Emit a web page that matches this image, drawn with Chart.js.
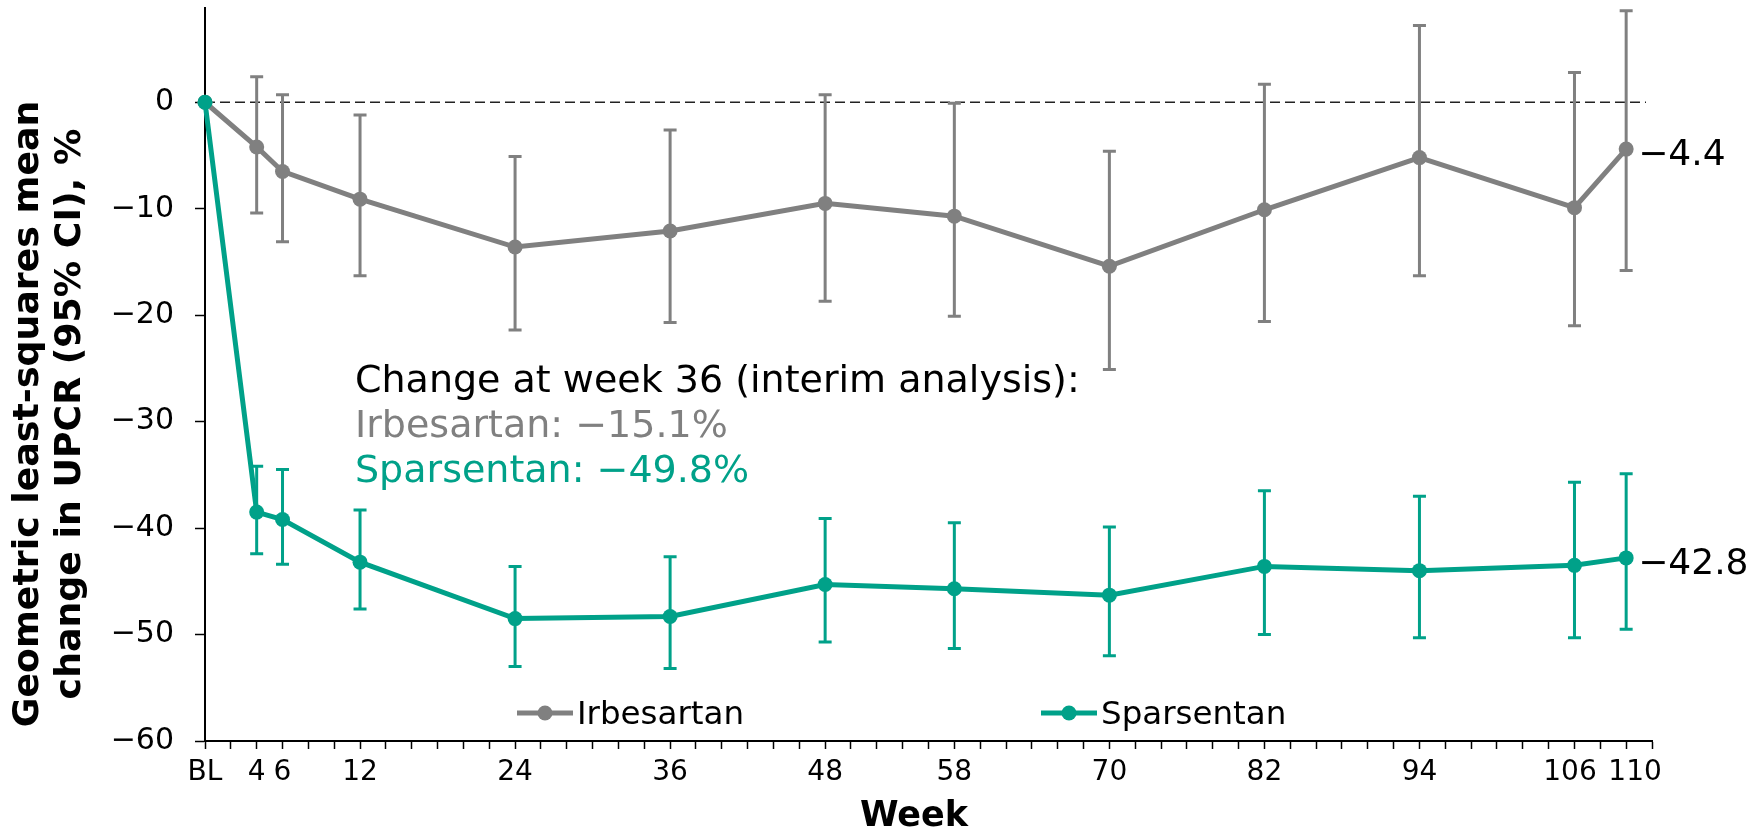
<!DOCTYPE html>
<html>
<head>
<meta charset="utf-8">
<script src="https://cdn.jsdelivr.net/npm/chart.js@4"></script>
<style>
  body { margin: 0; background: #fff; }
  #wrap { width: 1755px; height: 833px; }
</style>
</head>
<body>
<div id="wrap"><canvas id="chart" width="1755" height="833"></canvas></div>
<script>
/* ===== DATA ===== */
const weeks = [0, 4, 6, 12, 24, 36, 48, 58, 70, 82, 94, 106, 110];
const weekLabels = ["BL", "4", "6", "12", "24", "36", "48", "58", "70", "82", "94", "106 ", "  110"];

const irbMean  = [0, -4.2, -6.5, -9.1, -13.6, -12.1, -9.5, -10.7, -15.4, -10.1, -5.2, -9.9, -4.4];
const irbLower = [null, -10.4, -13.1, -16.3, -21.4, -20.7, -18.7, -20.1, -25.1, -20.6, -16.3, -21.0, -15.8];
const irbUpper = [null, 2.4, 0.7, -1.2, -5.1, -2.6, 0.7, -0.1, -4.6, 1.7, 7.2, 2.8, 8.6];

const spaMean  = [0, -38.5, -39.2, -43.2, -48.5, -48.3, -45.3, -45.7, -46.3, -43.6, -44.0, -43.5, -42.8];
const spaLower = [null, -42.4, -43.4, -47.6, -53.0, -53.2, -50.7, -51.3, -52.0, -50.0, -50.3, -50.3, -49.5];
const spaUpper = [null, -34.2, -34.5, -38.3, -43.6, -42.7, -39.1, -39.5, -39.9, -36.5, -37.0, -35.7, -34.9];

const yTicks = [-60, -50, -40, -30, -20, -10, 0];

const noteLines = [
  "Change at week 36 (interim analysis):",
  "Irbesartan: \u221215.1%",
  "Sparsentan: \u221249.8%",
];

/* ===== STYLE ===== */
const GRAY = "#808080";
const TEAL = "#00a189";
const FONT = "'DejaVu Sans', Verdana, sans-serif";
const minus = (n) => String(n).replace("-", "\u2212");

/* ===== PLUGIN: zero line, error bars, texts ===== */
const extras = {
  id: "extras",
  beforeDatasetsDraw(chart) {
    const { ctx, chartArea, scales: { x, y } } = chart;
    ctx.save();

    // dashed reference line at 0
    const y0 = y.getPixelForValue(0);
    ctx.strokeStyle = "#222";
    ctx.lineWidth = 1.5;
    ctx.setLineDash([10, 5]);
    ctx.beginPath();
    ctx.moveTo(chartArea.left, y0);
    ctx.lineTo(chartArea.right - 6, y0);
    ctx.stroke();
    ctx.setLineDash([]);

    // 95% CI bars
    [[irbLower, irbUpper, GRAY], [spaLower, spaUpper, TEAL]].forEach(([lo, hi, color]) => {
      ctx.strokeStyle = color;
      ctx.lineWidth = 3;
      weeks.forEach((w, i) => {
        if (lo[i] == null) return;
        const px = x.getPixelForValue(w);
        const y1 = y.getPixelForValue(lo[i]);
        const y2 = y.getPixelForValue(hi[i]);
        ctx.beginPath();
        ctx.moveTo(px, y1); ctx.lineTo(px, y2);
        ctx.moveTo(px - 6.5, y1); ctx.lineTo(px + 6.5, y1);
        ctx.moveTo(px - 6.5, y2); ctx.lineTo(px + 6.5, y2);
        ctx.stroke();
      });
    });
    ctx.restore();
  },
  afterDraw(chart) {
    const { ctx, scales: { x, y } } = chart;
    const last = weeks.length - 1;
    ctx.save();

    // end-point labels
    ctx.font = `36px ${FONT}`;
    ctx.fillStyle = "#000";
    ctx.textAlign = "left";
    ctx.textBaseline = "alphabetic";
    [irbMean, spaMean].forEach((m) => {
      ctx.fillText(minus(m[last].toFixed(1)),
        x.getPixelForValue(weeks[last]) + 12, y.getPixelForValue(m[last]) + 16);
    });

    // annotation
    ctx.font = `38px ${FONT}`;
    const noteColors = ["#000", GRAY, TEAL];
    const noteBase = [392, 437, 482];
    noteLines.forEach((t, i) => {
      ctx.fillStyle = noteColors[i];
      ctx.fillText(t, 355, noteBase[i]);
    });

    // legend
    const legend = [["Irbesartan", GRAY, 517], ["Sparsentan", TEAL, 1041]];
    ctx.font = `32.5px ${FONT}`;
    legend.forEach(([label, color, lx]) => {
      ctx.strokeStyle = color;
      ctx.fillStyle = color;
      ctx.lineWidth = 5;
      ctx.beginPath();
      ctx.moveTo(lx, 713); ctx.lineTo(lx + 56, 713);
      ctx.stroke();
      ctx.beginPath();
      ctx.arc(lx + 28, 713, 7.5, 0, Math.PI * 2);
      ctx.fill();
      ctx.fillStyle = "#000";
      ctx.fillText(label, lx + 60, 724);
    });

    // axis titles
    ctx.font = `bold 35px ${FONT}`;
    ctx.textAlign = "center";
    ctx.fillText("Week", 914, 826);

    ctx.font = `bold 36.3px ${FONT}`;
    ctx.textBaseline = "middle";
    [["Geometric least-squares mean", 29], ["change in UPCR (95% CI), %", 71]].forEach(([t, tx]) => {
      ctx.save();
      ctx.translate(tx, 414);
      ctx.rotate(-Math.PI / 2);
      ctx.fillText(t, 0, 0);
      ctx.restore();
    });
    ctx.restore();
  },
};

/* ===== CHART ===== */
const series = (mean) => weeks.map((w, i) => ({ x: w, y: mean[i] }));

new Chart(document.getElementById("chart"), {
  type: "line",
  data: {
    datasets: [
      {
        label: "Irbesartan",
        data: series(irbMean),
        borderColor: GRAY,
        backgroundColor: GRAY,
        borderWidth: 5,
        pointRadius: 7.5,
        pointHoverRadius: 7.5,
        pointBorderWidth: 0,
        clip: false,
        order: 2,
      },
      {
        label: "Sparsentan",
        data: series(spaMean),
        borderColor: TEAL,
        backgroundColor: TEAL,
        borderWidth: 5,
        pointRadius: 7.5,
        pointHoverRadius: 7.5,
        pointBorderWidth: 0,
        clip: false,
        order: 1,
      },
    ],
  },
  options: {
    responsive: false,
    animation: false,
    layout: { padding: { left: 0, right: 103, top: 7, bottom: 0 } },
    plugins: { legend: { display: false }, tooltip: { enabled: false } },
    scales: {
      x: {
        type: "linear",
        min: 0,
        max: 112,
        ticks: {
          stepSize: 2,
          autoSkip: false,
          maxRotation: 0,
          padding: 7,
          color: "#000",
          font: { family: FONT, size: 28 },
          callback: (v) => {
            const i = weeks.indexOf(v);
            return i >= 0 ? weekLabels[i] : "";
          },
        },
        grid: { drawOnChartArea: false, tickLength: 8, tickColor: "#000", tickWidth: 1.5 },
        border: { color: "#000", width: 2 },
        afterFit: (s) => { s.height = 92; s.paddingLeft = 0; s.paddingRight = 0; },
      },
      y: {
        min: -60,
        max: 8.9,
        ticks: {
          stepSize: 10,
          padding: 21,
          color: "#000",
          font: { family: FONT, size: 30 },
          callback: (v) => minus(v),
        },
        grid: { drawOnChartArea: false, tickLength: 10, tickColor: "#000", tickWidth: 1.5 },
        border: { color: "#000", width: 2 },
        afterBuildTicks: (s) => { s.ticks = s.ticks.filter((t) => yTicks.includes(t.value)); },
        afterFit: (s) => { s.width = 205; s.paddingTop = 0; s.paddingBottom = 0; },
      },
    },
  },
  plugins: [extras],
});
</script>
</body>
</html>
